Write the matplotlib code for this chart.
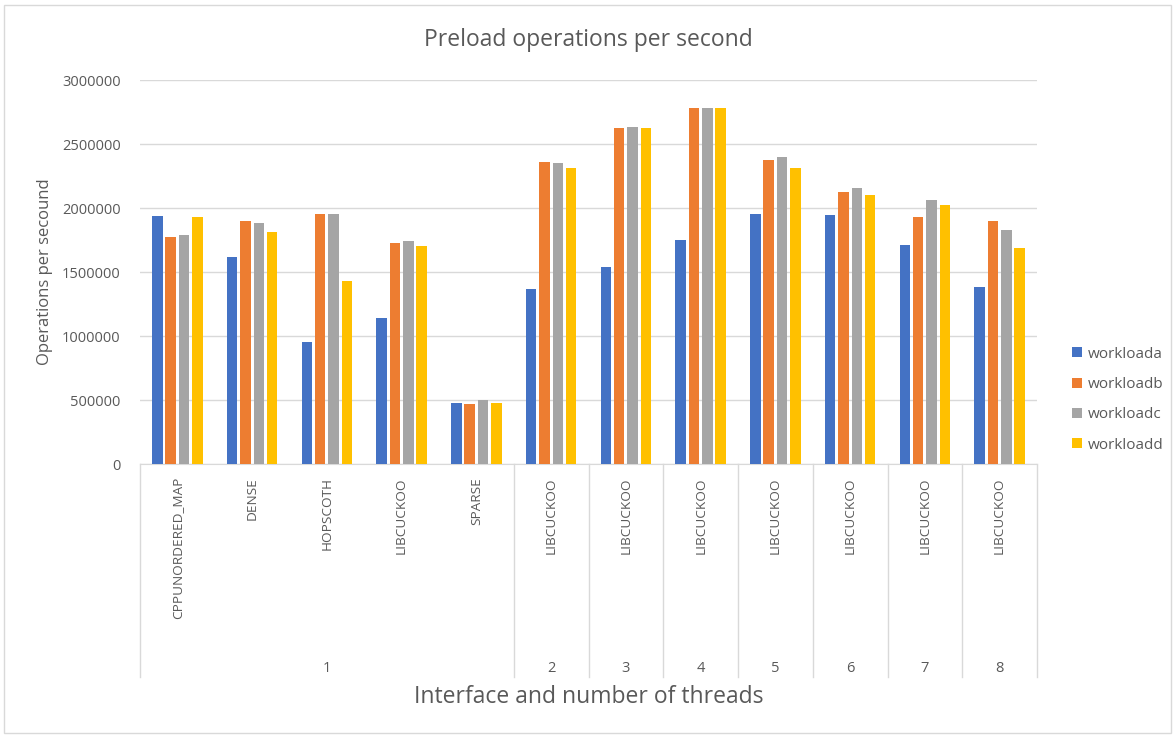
import numpy as np
import matplotlib
matplotlib.use("Agg")
import matplotlib.pyplot as plt
from matplotlib.patches import Rectangle
from matplotlib.lines import Line2D
import matplotlib.transforms as mtransforms

plt.rcParams['font.family'] = ['Open Sans', 'DejaVu Sans']

# interface name per bar group, and the thread count they belong to
interfaces = ["CPPUNORDERED_MAP", "DENSE", "HOPSCOTH", "LIBCUCKOO", "SPARSE",
              "LIBCUCKOO", "LIBCUCKOO", "LIBCUCKOO", "LIBCUCKOO", "LIBCUCKOO",
              "LIBCUCKOO", "LIBCUCKOO"]
thread_groups = ["1", "2", "3", "4", "5", "6", "7", "8"]
group_sizes = [5, 1, 1, 1, 1, 1, 1, 1]

series_names = ["workloada", "workloadb", "workloadc", "workloadd"]
workloada = [1941000, 1616000, 957000, 1140000, 476000, 1369000,
             1540000, 1748000, 1951000, 1944000, 1712000, 1384000]
workloadb = [1772000, 1899000, 1951000, 1728000, 468000, 2362000,
             2628000, 2779000, 2376000, 2123000, 1928000, 1897000]
workloadc = [1787000, 1884000, 1951000, 1743000, 500000, 2352000,
             2636000, 2779000, 2399000, 2160000, 2063000, 1832000]
workloadd = [1928000, 1811000, 1431000, 1707000, 476000, 2310000,
             2628000, 2779000, 2310000, 2100000, 2024000, 1689000]
series = [workloada, workloadb, workloadc, workloadd]
colors = ["#4472C4", "#ED7D31", "#A5A5A5", "#FFC000"]

W, H = 1176, 736
fig = plt.figure(figsize=(W / 100, H / 100), dpi=100)

# plot area in pixels: left, right, top, bottom
pl, pr, pt, pb = 140, 1037, 80, 464
ax = fig.add_axes([pl / W, 1 - pb / H, (pr - pl) / W, (pb - pt) / H])

n = len(interfaces)
x = np.arange(n)
pitch, width = 0.178, 0.14
for j, (vals, c) in enumerate(zip(series, colors)):
    ax.bar(x + (j - 1.5) * pitch, vals, width, color=c, label=series_names[j], zorder=3)

ax.set_xlim(-0.5, n - 0.5)
ax.set_ylim(0, 3000000)
ax.set_yticks(np.arange(0, 3000001, 500000))
ax.set_yticklabels([str(v) for v in range(0, 3000001, 500000)], color="#595959", fontsize=10.5)
ax.tick_params(axis='y', length=0, pad=14)
ax.tick_params(axis='x', length=0, labelbottom=False)
ax.grid(axis='y', color="#d9d9d9", linewidth=1, zorder=0)
for s in ["left", "right", "top"]:
    ax.spines[s].set_visible(False)
ax.spines["bottom"].set_color("#d9d9d9")

# two-level category axis below the plot
trans = mtransforms.blended_transform_factory(ax.transData, ax.transAxes)
ax_h = pb - pt
for i, name in enumerate(interfaces):
    ax.text(i, -13 / ax_h, name, transform=trans, rotation=90, ha="center", va="top",
            fontsize=9.7, color="#595959")

bounds = np.concatenate([[0], np.cumsum(group_sizes)]) - 0.5
line_bottom = -(677 - pb) / ax_h
for b in bounds:
    ax.add_line(Line2D([b, b], [0, line_bottom], transform=trans, color="#d9d9d9",
                       linewidth=1, clip_on=False))
for k, lab in enumerate(thread_groups):
    mid = (bounds[k] + bounds[k + 1]) / 2
    ax.text(mid, -(668 - pb) / ax_h, lab, transform=trans, ha="center", va="center",
            fontsize=10.5, color="#595959")

fig.text((pl + pr) / 2 / W, 1 - 697 / H, "Interface and number of threads",
         ha="center", va="center", fontsize=16.5, color="#595959")
fig.text(45 / W, 1 - 272 / H, "Operations per secound", rotation=90,
         ha="center", va="center", fontsize=12, color="#595959")
fig.text((pl + pr) / 2 / W, 1 - 40 / H, "Preload operations per second",
         ha="center", va="center", fontsize=16.5, color="#595959")

leg = fig.legend(loc="upper left", bbox_to_anchor=(1058 / W, 1 - 333 / H), frameon=False,
                 fontsize=11, labelcolor="#595959", handlelength=0.65, handleheight=0.65,
                 handletextpad=0.4, labelspacing=1.0)

fig.patches.append(Rectangle((4 / W, 3 / H), (W - 9) / W, (H - 8) / H, transform=fig.transFigure,
                             fill=False, edgecolor="#d9d9d9", linewidth=1))

fig.savefig("out.png", dpi=100)
